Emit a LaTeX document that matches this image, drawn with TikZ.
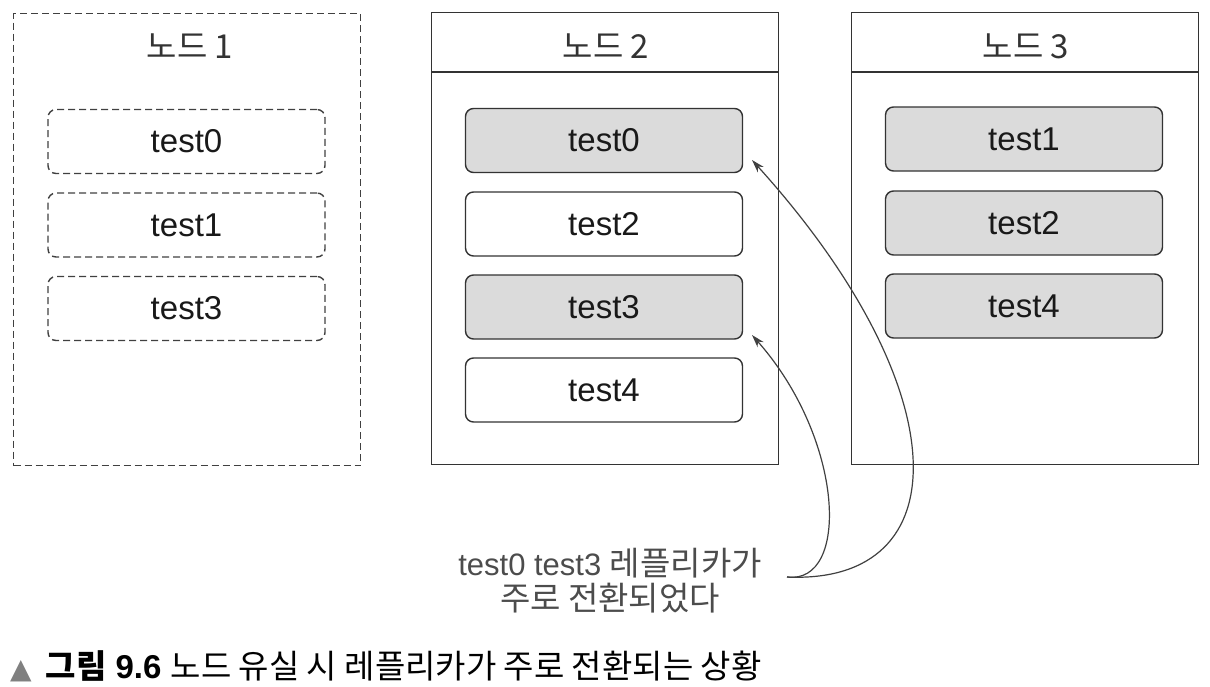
\documentclass[tikz,border=0pt]{standalone}
\usepackage{fontspec}
\setmainfont{Liberation Sans}
\newfontfamily\kr{Noto Sans CJK KR}
\newfontfamily\dejavu{DejaVu Sans}
\usetikzlibrary{arrows.meta}
\begin{document}
\begin{tikzpicture}[x=1pt,y=-1pt,
  outerbox/.style={draw=black!80, line width=1.4pt, inner sep=0pt, minimum width=347pt, minimum height=452pt, anchor=north west},
  lostbox/.style={outerbox, draw=black!75, dash pattern=on 7pt off 4pt},
  rep/.style={draw=black!80, line width=1.4pt, rounded corners=8pt, minimum width=277pt, minimum height=64pt, inner sep=0pt, font=\fontsize{33}{33}\selectfont, text=black!90},
  prim/.style={rep, fill=black!14},
  lost/.style={rep, draw=black!75, dash pattern=on 7pt off 4pt},
  title/.style={font=\kr\fontsize{33}{33}\selectfont, text=black!80, inner sep=0pt},
  note/.style={text=black!70, font=\fontsize{31}{31}\selectfont, inner sep=0pt},
  arr/.style={draw=black!75, line width=1.2pt, -{Stealth[length=13pt,width=8pt]}}
]
\useasboundingbox (0,0) rectangle (1210,686);

% node 1 (lost)
\node[lostbox] (n1) at (13,13) {};
\node[title] (t1) at (190,46) {노드 1};
\node[lost] (n1a) at (186.5,141.5) {test0};
\node[lost] (n1b) at (186.5,225) {test1};
\node[lost] (n1c) at (186.5,308.5) {test3};

% node 2
\node[outerbox] (n2) at (431,12) {};
\draw[draw=black!80, line width=1.4pt] (n2.west |- 0,72) -- (n2.east |- 0,72);
\node[title] (t2) at (606,46) {노드 2};
\node[prim] (n2a) at (604,140.5) {test0};
\node[rep]  (n2b) at (604,224) {test2};
\node[prim] (n2c) at (604,307) {test3};
\node[rep]  (n2d) at (604,390) {test4};

% node 3
\node[outerbox] (n3) at (851,12) {};
\draw[draw=black!80, line width=1.4pt] (n3.west |- 0,72) -- (n3.east |- 0,72);
\node[title] (t3) at (1026,46) {노드 3};
\node[prim] (n3a) at (1024,139) {test1};
\node[prim] (n3b) at (1024,223) {test2};
\node[prim] (n3c) at (1024,306) {test4};

% annotation
\node[note, anchor=base] (note1) at (610,575) {test0 test3 {\kr\fontsize{33}{33}\selectfont 레플리카가}};
\node[note, anchor=base] (note2) at (610,610) {\kr\fontsize{33}{33}\selectfont 주로 전환되었다};
\coordinate (src) at (787,577);
\coordinate (tip0) at (752,160);
\coordinate (tip3) at (752,335);
\draw[arr] (src) .. controls (850,585) and (845,440) .. (tip3);
\draw[arr] (src) .. controls (960,585) and (960,390) .. (tip0);

% caption
\node[anchor=base west, inner sep=0pt, font=\fontsize{33}{33}\selectfont] (cap) at (10,678)
  {{\dejavu\color{black!50}\fontsize{28}{28}\selectfont ▲}\hspace{14pt}{\kr\bfseries 그림} {\bfseries 9.6} {\kr 노드 유실 시 레플리카가 주로 전환되는 상황}};
\end{tikzpicture}
\end{document}
